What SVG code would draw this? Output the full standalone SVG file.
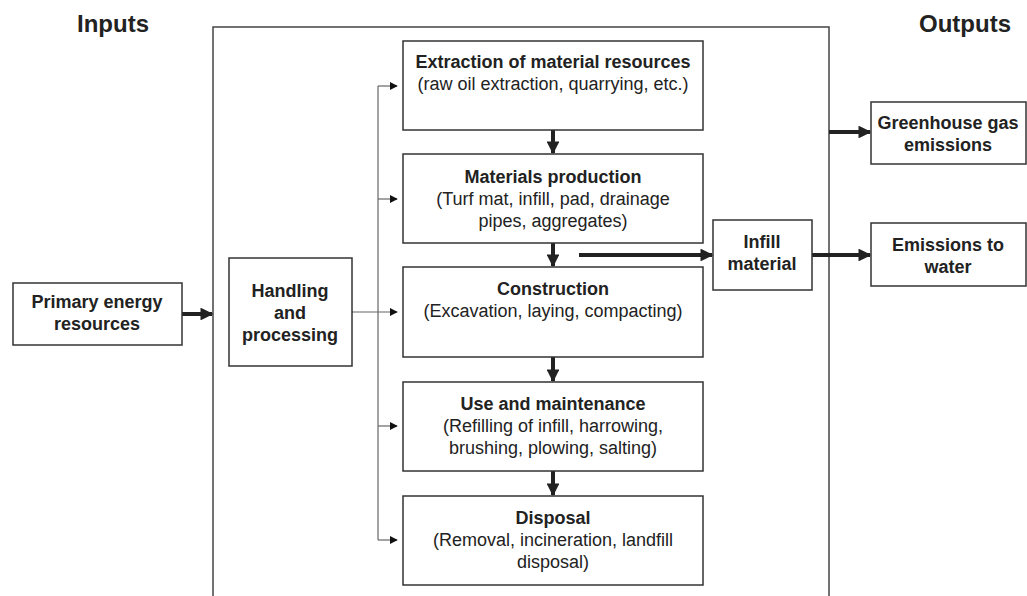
<svg xmlns="http://www.w3.org/2000/svg" width="1027" height="596" viewBox="0 0 1027 596">
<defs>
<style>
.box{fill:#fff;stroke:#333;stroke-width:1.5}
.outer{fill:none;stroke:#444;stroke-width:1.5}
text{font-family:"Liberation Sans",Arial,sans-serif;fill:#222;text-anchor:middle}
.b{font-weight:bold;font-size:18px}
.r{font-size:18px}
.title{font-weight:bold;font-size:24px}
.thick{stroke:#222;stroke-width:4;fill:none}
.thin{stroke:#666;stroke-width:1.2;fill:none}
</style>
<marker id="ah" viewBox="0 0 10 10" refX="9" refY="5" markerWidth="3.2" markerHeight="3.2" markerUnits="strokeWidth" orient="auto">
<path d="M0,0 L10,5 L0,10 z" fill="#222"/>
</marker>
<marker id="th" viewBox="0 0 10 10" refX="9" refY="5" markerWidth="8" markerHeight="8" markerUnits="userSpaceOnUse" orient="auto">
<path d="M0,0 L10,5 L0,10 z" fill="#111"/>
</marker>
</defs>
<rect width="1027" height="596" fill="#fff"/>
<text class="title" x="113" y="32">Inputs</text>
<text class="title" x="965" y="32">Outputs</text>
<path class="outer" d="M213,600 V27 H829 V600"/>
<g id="connectors">
<path class="thin" d="M352,312 H397" marker-end="url(#th)"/>
<path class="thin" d="M378,86 V540"/>
<path class="thin" d="M378,86 H397" marker-end="url(#th)"/>
<path class="thin" d="M378,199 H397" marker-end="url(#th)"/>
<path class="thin" d="M378,426 H397" marker-end="url(#th)"/>
<path class="thin" d="M378,540 H397" marker-end="url(#th)"/>
<path class="thick" d="M182,314 H212" marker-end="url(#ah)"/>
<path class="thick" d="M553,130 V153" marker-end="url(#ah)"/>
<path class="thick" d="M553,243 V266" marker-end="url(#ah)"/>
<path class="thick" d="M553,357 V381" marker-end="url(#ah)"/>
<path class="thick" d="M553,471 V495" marker-end="url(#ah)"/>
<path class="thick" d="M579,255 H712" marker-end="url(#ah)"/>
<path class="thick" d="M812,255 H870" marker-end="url(#ah)"/>
<path class="thick" d="M829,132 H870" marker-end="url(#ah)"/>
</g>
<g id="extraction">
<rect class="box" x="403" y="41" width="300" height="89"/>
<text class="b" x="553" y="68">Extraction of material resources</text>
<text class="r" x="553" y="90">(raw oil extraction, quarrying, etc.)</text>
</g>
<g id="materials">
<rect class="box" x="403" y="154" width="300" height="89"/>
<text class="b" x="553" y="183">Materials production</text>
<text class="r" x="553" y="205">(Turf mat, infill, pad, drainage</text>
<text class="r" x="553" y="227">pipes, aggregates)</text>
</g>
<g id="construction">
<rect class="box" x="403" y="267" width="300" height="90"/>
<text class="b" x="553" y="295">Construction</text>
<text class="r" x="553" y="317">(Excavation, laying, compacting)</text>
</g>
<g id="use">
<rect class="box" x="403" y="382" width="300" height="89"/>
<text class="b" x="553" y="410">Use and maintenance</text>
<text class="r" x="553" y="432">(Refilling of infill, harrowing,</text>
<text class="r" x="553" y="454">brushing, plowing, salting)</text>
</g>
<g id="disposal">
<rect class="box" x="403" y="496" width="300" height="89"/>
<text class="b" x="553" y="524">Disposal</text>
<text class="r" x="553" y="546">(Removal, incineration, landfill</text>
<text class="r" x="553" y="568">disposal)</text>
</g>
<g id="handling">
<rect class="box" x="229" y="258" width="123" height="108"/>
<text class="b" x="290" y="297">Handling</text>
<text class="b" x="290" y="319">and</text>
<text class="b" x="290" y="341">processing</text>
</g>
<g id="primary">
<rect class="box" x="13" y="283" width="169" height="62"/>
<text class="b" x="97" y="308">Primary energy</text>
<text class="b" x="97" y="330">resources</text>
</g>
<g id="infill">
<rect class="box" x="713" y="220" width="99" height="70"/>
<text class="b" x="762" y="248">Infill</text>
<text class="b" x="762" y="270">material</text>
</g>
<g id="greenhouse">
<rect class="box" x="871" y="102" width="155" height="62"/>
<text class="b" x="948" y="129">Greenhouse gas</text>
<text class="b" x="948" y="151">emissions</text>
</g>
<g id="water">
<rect class="box" x="871" y="223" width="155" height="63"/>
<text class="b" x="948" y="251">Emissions to</text>
<text class="b" x="948" y="273">water</text>
</g>
</svg>
